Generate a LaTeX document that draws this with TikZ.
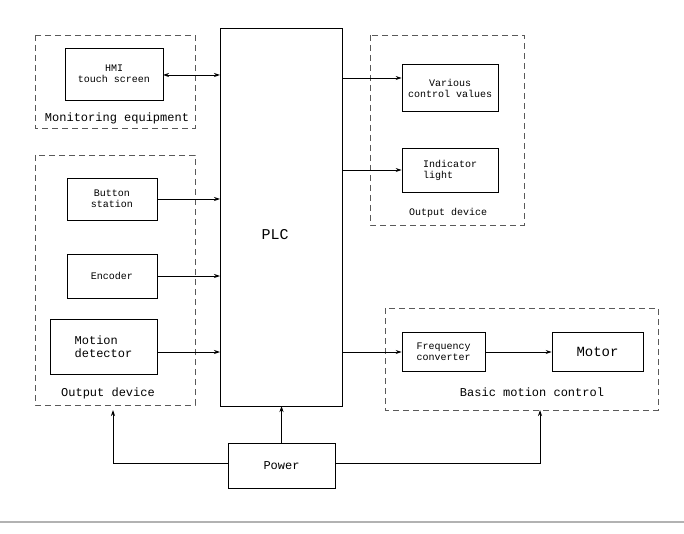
\documentclass[tikz,border=0pt]{standalone}
\usepackage{fontspec}
\setmainfont{Liberation Mono}
\usetikzlibrary{arrows.meta}
\begin{document}
\begin{tikzpicture}[x=1pt,y=-1pt,
 box/.style={draw,thick,inner sep=0pt},
 grp/.style={draw,thick,dash pattern=on 6pt off 4pt,gray!70!black},
 arr/.style={-{Stealth[length=6pt,width=4pt]},thick},
 lbl/.style={font=\fontsize{12}{13}\selectfont},
 sm/.style={font=\fontsize{10}{11}\selectfont,align=left}]
\useasboundingbox (0,0) rectangle (684,534);
\draw[gray!60,line width=1.5pt] (0,522) -- (684,522);
% PLC
\node[box,minimum width=122,minimum height=378] (plc) at (281,217) {};
\node[font=\fontsize{15}{17}\selectfont] (plct) at (275,235) {PLC};
% Monitoring
\draw[grp] (35,35) rectangle (195,128);
\node[box,minimum width=98,minimum height=52,sm,align=center] (hmi) at (114,74) {HMI\\touch screen};
\node[lbl] (mon) at (117,118) {Monitoring equipment};
% Left output
\draw[grp] (35,155) rectangle (195,405);
\node[box,minimum width=90,minimum height=42,sm,align=center] (btn) at (112,199) {Button\\station};
\node[box,minimum width=90,minimum height=44,sm] (enc) at (112,276) {Encoder};
\node[box,minimum width=107,minimum height=55,lbl,align=left] (mot) at (103.5,347) {Motion\\detector};
\node[lbl] (od1) at (108,393) {Output device};
% Right output
\draw[grp] (370,35) rectangle (524,225);
\node[box,minimum width=96,minimum height=47,sm,align=center] (var) at (450,88) {Various\\control values};
\node[box,minimum width=96,minimum height=44,sm] (ind) at (450,170) {Indicator\\light};
\node[sm] (od2) at (448,213) {Output device};
% Motion control
\draw[grp] (385,308) rectangle (658,410);
\node[box,minimum width=83,minimum height=39,sm] (fc) at (443.5,352) {Frequency\\converter};
\node[box,minimum width=91,minimum height=39,font=\fontsize{14}{15}\selectfont] (motor) at (597.5,352) {Motor};
\node[lbl] (bmc) at (532,392) {Basic motion control};
% Power
\node[box,minimum width=107,minimum height=45,lbl] (pw) at (281.5,465.5) {Power};
\coordinate (lt) at (113,463);
\coordinate (rt) at (540,463);
\coordinate (lu) at (113,410);
\coordinate (ru) at (540,410);
\coordinate (mo) at (157,352);
% arrows
\draw[{Stealth[length=6pt,width=4pt]}-{Stealth[length=6pt,width=4pt]},thick] (163,75) -- (220,75);
\draw[arr] (342,78) -- (var.west|-342,78);
\draw[arr] (342,170) -- (ind.west);
\draw[arr] (btn.east) -- (220,199);
\draw[arr] (enc.east) -- (220,276);
\draw[arr] (mo) -- (220,352);
\draw[arr] (342,352) -- (fc.west);
\draw[arr] (fc.east) -- (motor.west);
\draw[arr] (pw.north) -- (281.5,406);
\draw[arr] (pw.west|-lt) -- (lt) -- (lu);
\draw[arr] (pw.east|-rt) -- (rt) -- (ru);
\end{tikzpicture}
\end{document}
